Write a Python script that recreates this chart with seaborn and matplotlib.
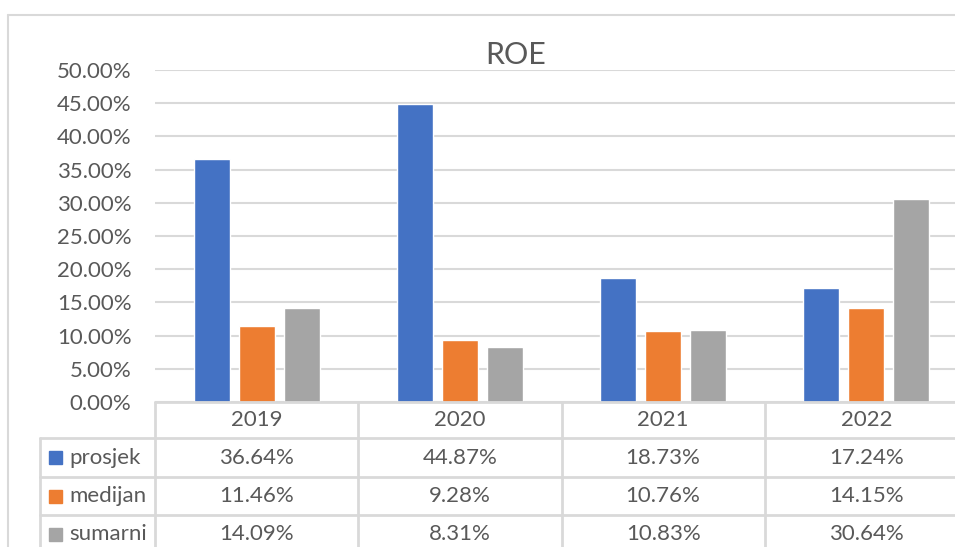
import numpy as np
import pandas as pd
import seaborn as sns
import matplotlib.pyplot as plt
from matplotlib.patches import Rectangle
from matplotlib.lines import Line2D

# chart data (ROE in %)
years = ["2019", "2020", "2021", "2022"]
series = ["prosjek", "medijan", "sumarni"]
prosjek = [36.64, 44.87, 18.73, 17.24]
medijan = [11.46, 9.28, 10.76, 14.15]
sumarni = [14.09, 8.31, 10.83, 30.64]
colors = ["#4472C4", "#ED7D31", "#A5A5A5"]

df = pd.DataFrame({"year": years * 3,
                   "serija": [s for s in series for _ in years],
                   "roe": prosjek + medijan + sumarni})

sns.set_theme(style="white")
plt.rcParams['font.family'] = ['Lato', 'DejaVu Sans']
txt = "#595959"
grid = "#D9D9D9"

W, H = 955, 547
fig = plt.figure(figsize=(W / 100, H / 100), dpi=100)

# outer chart frame (cropped on the right and bottom)
fig.add_artist(Line2D([8 / W, 8 / W], [0, 1 - 15 / H], color=grid, lw=1.5))
fig.add_artist(Line2D([8 / W, 1], [1 - 15 / H, 1 - 15 / H], color=grid, lw=1.5))

# plot area
x0, x1, ytop, ybot = 155, 968, 70, 402
ax = fig.add_axes([x0 / W, (H - ybot) / H, (x1 - x0) / W, (ybot - ytop) / H])
sns.barplot(data=df, x="year", y="roe", hue="serija", palette=colors,
            width=0.665, gap=0.2, ax=ax, legend=False, saturation=1)
ax.set_ylim(0, 50)
ax.set_xlim(-0.5, 3.5)
ax.set_yticks(np.arange(0, 50.1, 5))
ax.set_yticklabels([f"{v:.2f}%" for v in np.arange(0, 50.1, 5)], color=txt, fontsize=16)
ax.tick_params(axis="y", length=0, pad=17)
ax.set_xticks([])
ax.set_xlabel("")
ax.set_ylabel("")
ax.yaxis.grid(True, color=grid, lw=1.5)
ax.set_axisbelow(True)
for s in ax.spines.values():
    s.set_visible(False)

fig.text(516 / W, 1 - 55 / H, "ROE", ha="center", va="center", fontsize=22, color=txt)

# data table below the plot, y in pixels from top
tb = fig.add_axes([x0 / W, 0, (x1 - x0) / W, (H - ybot) / H])
tb.set_xlim(-0.5, 3.5)
tb.set_ylim(H, ybot)
tb.axis("off")
cw = (x1 - x0) / 4
xl = -0.5 - (x0 - 40) / cw
kw = dict(color=grid, lw=2, clip_on=False)

tb.plot([-0.5, 3.5], [ybot, ybot], **kw)
for yy in [438, 477, 515]:
    tb.plot([xl, 3.5], [yy, yy], **kw)
for i in range(4):
    tb.plot([i - 0.5, i - 0.5], [ybot, H], **kw)
tb.plot([xl, xl], [438, H], **kw)

for i, y in enumerate(years):
    tb.text(i, 420, y, ha="center", va="center", fontsize=16, color=txt)

row_y = [457.5, 496, 534]
for r, (name, vals) in enumerate(zip(series, [prosjek, medijan, sumarni])):
    yc = row_y[r]
    tb.add_patch(Rectangle((xl + 9 / cw, yc - 6.5), 13 / cw, 13,
                           color=colors[r], clip_on=False))
    tb.text(xl + 29 / cw, yc, name, ha="left", va="center", fontsize=16, color=txt)
    for i, v in enumerate(vals):
        tb.text(i, yc, f"{v:.2f}%", ha="center", va="center", fontsize=16, color=txt)

plt.savefig("out.png", dpi=100)
